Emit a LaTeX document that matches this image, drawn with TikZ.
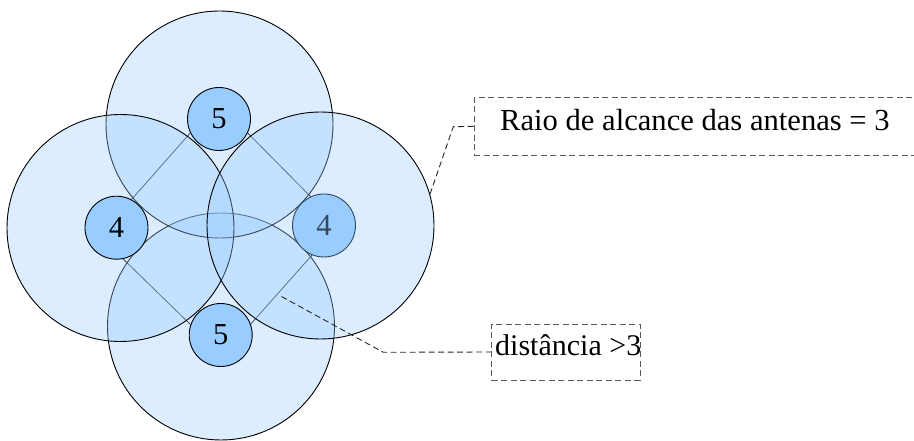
\documentclass[tikz,border=0pt]{standalone}
\usepackage{fontspec}
\setmainfont{Liberation Serif}
\pgfdeclarelayer{bg}
\pgfsetlayers{bg,main}
\definecolor{antblue}{HTML}{99CCFF}
\tikzset{
  coverage/.style={circle, draw=black, line width=0.9pt, fill=antblue, fill opacity=0.35,
                minimum size=227pt, inner sep=0pt},
  antenna/.style={circle, draw=black, line width=0.9pt, fill=antblue,
                  minimum size=63pt, inner sep=0pt, font=\fontsize{30.5}{30}\selectfont},
  link/.style={draw=black, line width=0.8pt},
  leader/.style={draw=black!85, line width=0.9pt, dash pattern=on 6pt off 3.5pt},
  notebox/.style={draw=black!65, line width=0.9pt, dash pattern=on 6pt off 3.5pt, inner sep=0pt},
  notetext/.style={font=\fontsize{30.6}{30}\selectfont, inner sep=0pt, anchor=base west},
}
\begin{document}
\begin{tikzpicture}[x=1pt,y=1pt]
\useasboundingbox (0,0) rectangle (914,441);

% coverage areas and antennas, stacked in drawing order
\node[coverage] (Bbig) at (221,114.5) {};
\node[coverage] (Tbig) at (219.5,316.5) {};
\node[coverage] (Lbig) at (120.5,213) {};
\node[antenna] (r4) at (324,215.5) {4};
\node[coverage] (Rbig) at (320.5,215.5) {};
\node[antenna] (t5) at (219,322) {5};
\node[antenna] (l4) at (116.5,213.3) {4};
\node[antenna] (b5) at (220.7,106) {5};

% links between neighbouring antennas, behind the coverage areas
\begin{pgfonlayer}{bg}
  \draw[link] (t5.206) -- (l4.62);
  \draw[link] (t5.334) -- (r4.115);
  \draw[link] (l4.282) -- (b5.161);
  \draw[link] (r4.248) -- (b5.20);
\end{pgfonlayer}

% note: range of the antennas
\node[notebox, anchor=west, minimum width=480pt, minimum height=57.3pt] (box1) at (474,314.65) {};
\node[notetext] (txt1) at (500,310.3) {Raio de alcance das antenas = 3};
\coordinate (k1) at (453.3,314.3);
\draw[leader] (Rbig.16) -- (k1) -- (box1.west);

% note: distance between antennas
\node[notebox, minimum width=148.3pt, minimum height=56pt] (box2) at (565.85,89) {};
\node[notetext, font=\fontsize{30}{30}\selectfont] (txt2) at (495,85) {distância >3};
\coordinate (dpt) at (281.5,144.5);
\coordinate (k2) at (383.3,88.7);
\draw[leader] (dpt) -- (k2) -- (box2.west);
\end{tikzpicture}
\end{document}
